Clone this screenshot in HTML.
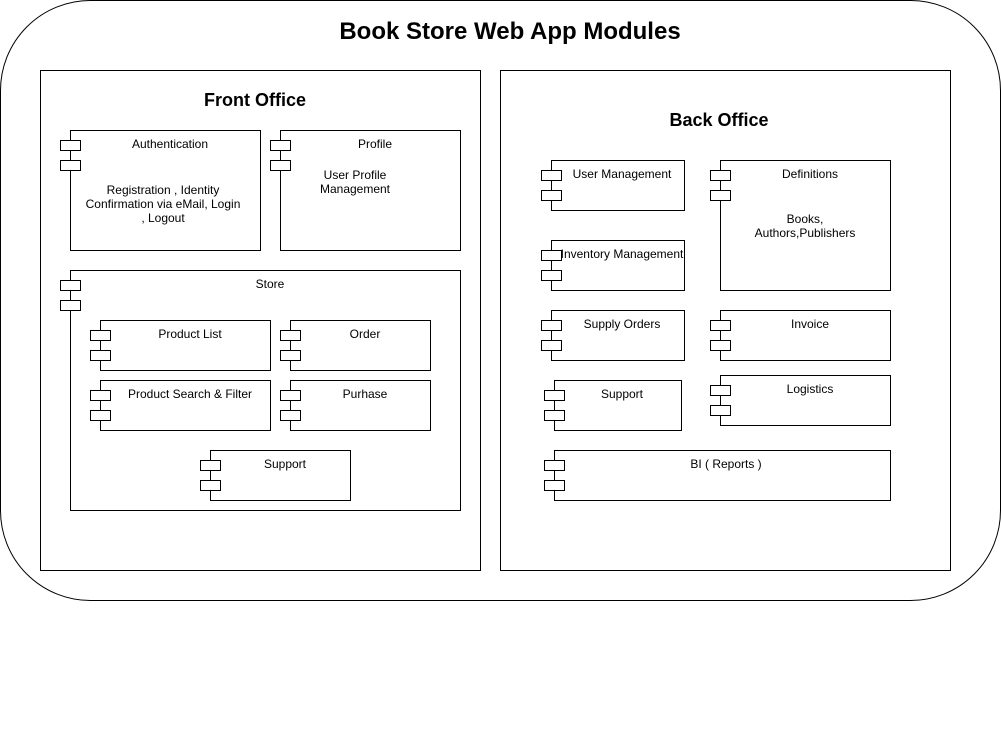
<!DOCTYPE html>
<html><head><meta charset="utf-8"><style>html,body{margin:0;padding:0;background:#fff}svg{display:block}text{font-family:"Liberation Sans",Arial,sans-serif;fill:#000}</style></head><body>
<svg width="1001" height="741" xmlns="http://www.w3.org/2000/svg">
<rect x="0.5" y="0.5" width="1000" height="600" rx="90" ry="90" fill="#fff" stroke="#000"/>
<text x="510" y="39" font-size="24" font-weight="bold" text-anchor="middle">Book Store Web App Modules</text>
<rect x="40.5" y="70.5" width="440" height="500" fill="#fff" stroke="#000"/>
<text x="255" y="106" font-size="18" font-weight="bold" text-anchor="middle">Front Office</text>
<rect x="500.5" y="70.5" width="450" height="500" fill="#fff" stroke="#000"/>
<text x="719" y="126" font-size="18" font-weight="bold" text-anchor="middle">Back Office</text>
<line x1="500.5" y1="296" x2="500.5" y2="304" stroke="#000"/>
<g fill="#fff" stroke="#000" stroke-width="1">
<!-- bodies -->
<rect x="70.5" y="130.5" width="190" height="120"/>
<rect x="280.5" y="130.5" width="180" height="120"/>
<rect x="70.5" y="270.5" width="390" height="240"/>
<rect x="100.5" y="320.5" width="170" height="50"/>
<rect x="290.5" y="320.5" width="140" height="50"/>
<rect x="100.5" y="380.5" width="170" height="50"/>
<rect x="290.5" y="380.5" width="140" height="50"/>
<rect x="210.5" y="450.5" width="140" height="50"/>
<rect x="551.5" y="160.5" width="133" height="50"/>
<rect x="551.5" y="240.5" width="133" height="50"/>
<rect x="551.5" y="310.5" width="133" height="50"/>
<rect x="554.5" y="380.5" width="127" height="50"/>
<rect x="554.5" y="450.5" width="336" height="50"/>
<rect x="720.5" y="160.5" width="170" height="130"/>
<rect x="720.5" y="310.5" width="170" height="50"/>
<rect x="720.5" y="375.5" width="170" height="50"/>
<!-- tabs -->
<rect x="60.5" y="140.5" width="20" height="10"/><rect x="60.5" y="160.5" width="20" height="10"/>
<rect x="270.5" y="140.5" width="20" height="10"/><rect x="270.5" y="160.5" width="20" height="10"/>
<rect x="60.5" y="280.5" width="20" height="10"/><rect x="60.5" y="300.5" width="20" height="10"/>
<rect x="90.5" y="330.5" width="20" height="10"/><rect x="90.5" y="350.5" width="20" height="10"/>
<rect x="280.5" y="330.5" width="20" height="10"/><rect x="280.5" y="350.5" width="20" height="10"/>
<rect x="90.5" y="390.5" width="20" height="10"/><rect x="90.5" y="410.5" width="20" height="10"/>
<rect x="280.5" y="390.5" width="20" height="10"/><rect x="280.5" y="410.5" width="20" height="10"/>
<rect x="200.5" y="460.5" width="20" height="10"/><rect x="200.5" y="480.5" width="20" height="10"/>
<rect x="541.5" y="170.5" width="20" height="10"/><rect x="541.5" y="190.5" width="20" height="10"/>
<rect x="541.5" y="250.5" width="20" height="10"/><rect x="541.5" y="270.5" width="20" height="10"/>
<rect x="541.5" y="320.5" width="20" height="10"/><rect x="541.5" y="340.5" width="20" height="10"/>
<rect x="544.5" y="390.5" width="20" height="10"/><rect x="544.5" y="410.5" width="20" height="10"/>
<rect x="544.5" y="460.5" width="20" height="10"/><rect x="544.5" y="480.5" width="20" height="10"/>
<rect x="710.5" y="170.5" width="20" height="10"/><rect x="710.5" y="190.5" width="20" height="10"/>
<rect x="710.5" y="320.5" width="20" height="10"/><rect x="710.5" y="340.5" width="20" height="10"/>
<rect x="710.5" y="385.5" width="20" height="10"/><rect x="710.5" y="405.5" width="20" height="10"/>
</g>
<g font-size="12" text-anchor="middle">
<text x="170" y="148">Authentication</text>
<text x="163" y="194">Registration , Identity</text>
<text x="163" y="208">Confirmation via eMail, Login</text>
<text x="163" y="222">, Logout</text>
<text x="375" y="148">Profile</text>
<text x="355" y="179">User Profile</text>
<text x="355" y="193">Management</text>
<text x="270" y="288">Store</text>
<text x="190" y="338">Product List</text>
<text x="365" y="338">Order</text>
<text x="190" y="398">Product Search &amp; Filter</text>
<text x="365" y="398">Purhase</text>
<text x="285" y="468">Support</text>
<text x="622" y="178">User Management</text>
<text x="622" y="258">Inventory Management</text>
<text x="622" y="328">Supply Orders</text>
<text x="622" y="398">Support</text>
<text x="726" y="468">BI ( Reports )</text>
<text x="810" y="178">Definitions</text>
<text x="805" y="223">Books,</text>
<text x="805" y="237">Authors,Publishers</text>
<text x="810" y="328">Invoice</text>
<text x="810" y="393">Logistics</text>
</g>
</svg>
</body></html>
